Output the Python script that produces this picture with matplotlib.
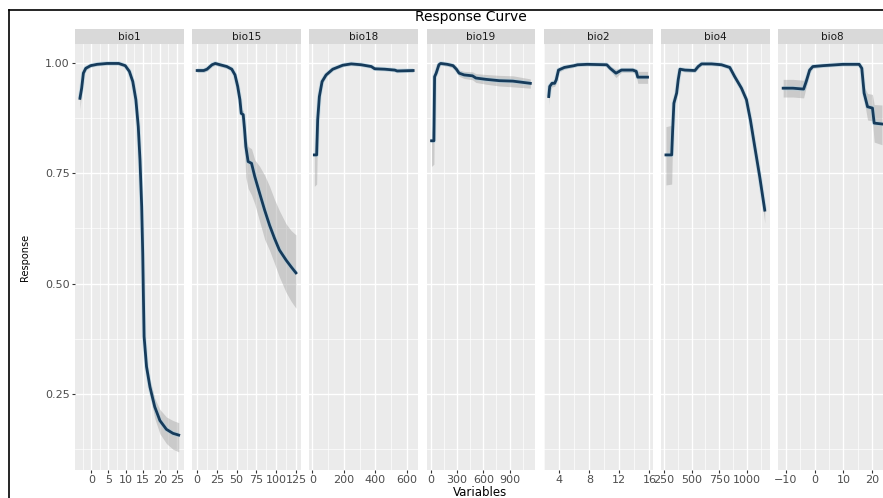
import matplotlib.pyplot as plt
from matplotlib.patches import Rectangle
from matplotlib.lines import Line2D

W, H = 883, 498

# response curves: x values, mean response and the grey band
bio1_x = [-3.3, -2.8, -2.3, -1.6, -0.2, 1.7, 4.6, 8.0, 9.9, 11.1, 12.1, 13.0, 13.7,
          14.2, 14.7, 15.0, 15.2, 15.4, 16.1, 17.1, 18.5, 20.0, 21.9, 23.8, 25.5]
bio1_y = [0.919, 0.942, 0.976, 0.987, 0.993, 0.996, 0.998, 0.998, 0.993, 0.980, 0.957, 0.916, 0.855,
          0.780, 0.674, 0.568, 0.470, 0.380, 0.312, 0.266, 0.221, 0.190, 0.170, 0.161, 0.157]
bio1_lo = [0.895, 0.930, 0.970, 0.983, 0.990, 0.993, 0.995, 0.995, 0.990, 0.976, 0.952, 0.910, 0.849,
           0.773, 0.667, 0.560, 0.462, 0.370, 0.300, 0.250, 0.195, 0.160, 0.138, 0.125, 0.119]
bio1_hi = [0.935, 0.952, 0.982, 0.991, 0.996, 0.999, 1.000, 1.000, 0.996, 0.984, 0.962, 0.922, 0.861,
           0.787, 0.681, 0.576, 0.478, 0.390, 0.324, 0.282, 0.240, 0.215, 0.198, 0.190, 0.185]

bio15_x = [0, 8.3, 12.5, 18.8, 22.9, 29, 37.5, 43.8, 47.9, 51.3, 54.1, 55.8, 58.3,
           60, 61.6, 64.5, 68.8, 72.9, 79.1, 85.4, 91.6, 97.9, 104, 112.5, 118.8, 125]
bio15_y = [0.982, 0.982, 0.985, 0.995, 0.998, 0.995, 0.991, 0.985, 0.972, 0.946, 0.916, 0.885, 0.882,
           0.848, 0.810, 0.776, 0.772, 0.742, 0.704, 0.666, 0.632, 0.602, 0.576, 0.553, 0.538, 0.524]
bio15_lo = [0.978, 0.978, 0.981, 0.991, 0.994, 0.991, 0.987, 0.981, 0.968, 0.941, 0.910, 0.878, 0.865,
            0.800, 0.740, 0.715, 0.700, 0.680, 0.640, 0.600, 0.575, 0.545, 0.515, 0.480, 0.460, 0.444]
bio15_hi = [0.986, 0.986, 0.989, 0.999, 1.002, 0.999, 0.995, 0.989, 0.976, 0.951, 0.922, 0.892, 0.892,
            0.862, 0.830, 0.810, 0.805, 0.780, 0.765, 0.745, 0.720, 0.690, 0.665, 0.635, 0.620, 0.610]

bio18_x = [12.6, 27.3, 33.7, 44.5, 61.8, 87.4, 129.6, 193.5, 247, 311, 375, 396, 460, 524, 539, 641]
bio18_y = [0.791, 0.791, 0.870, 0.923, 0.957, 0.972, 0.985, 0.994, 0.997, 0.995, 0.991, 0.986,
           0.985, 0.983, 0.981, 0.982]
bio18_lo = [0.720, 0.725, 0.850, 0.915, 0.952, 0.968, 0.982, 0.991, 0.994, 0.992, 0.988, 0.983,
            0.982, 0.980, 0.978, 0.978]
bio18_hi = [0.800, 0.860, 0.890, 0.930, 0.962, 0.976, 0.988, 0.997, 1.000, 0.998, 0.994, 0.989,
            0.988, 0.986, 0.984, 0.986]

bio19_x = [8, 35, 43, 61, 92, 112, 188, 254, 292, 323, 381, 476, 515, 631, 784, 938, 1138]
bio19_y = [0.823, 0.823, 0.968, 0.976, 0.995, 0.998, 0.996, 0.993, 0.985, 0.976, 0.972, 0.970,
           0.965, 0.962, 0.959, 0.958, 0.953]
bio19_lo = [0.765, 0.770, 0.955, 0.970, 0.990, 0.994, 0.992, 0.988, 0.979, 0.969, 0.964, 0.961,
            0.955, 0.951, 0.947, 0.945, 0.942]
bio19_hi = [0.840, 0.882, 0.980, 0.982, 0.999, 1.002, 1.000, 0.998, 0.991, 0.983, 0.980, 0.979,
            0.975, 0.973, 0.971, 0.970, 0.963]

bio2_x = [2.59, 2.72, 3.03, 3.37, 3.59, 3.89, 4.68, 5.98, 6.42, 7.73, 10.33, 10.77, 11.55,
          12.29, 13.8, 14.25, 14.45, 15.76]
bio2_y = [0.923, 0.946, 0.953, 0.953, 0.961, 0.983, 0.989, 0.993, 0.995, 0.996, 0.995, 0.987,
          0.976, 0.983, 0.983, 0.980, 0.967, 0.967]
bio2_lo = [0.905, 0.935, 0.945, 0.946, 0.954, 0.978, 0.985, 0.990, 0.992, 0.993, 0.992, 0.982,
           0.966, 0.978, 0.978, 0.972, 0.953, 0.953]
bio2_hi = [0.935, 0.955, 0.960, 0.960, 0.967, 0.988, 0.993, 0.996, 0.998, 0.999, 0.998, 0.992,
           0.985, 0.988, 0.988, 0.986, 0.980, 0.980]

bio4_x = [268, 320, 329, 340, 365, 379, 395, 440, 530, 560, 591, 681, 771, 846, 891, 952,
          997, 1033, 1072, 1117, 1163]
bio4_y = [0.791, 0.791, 0.848, 0.908, 0.931, 0.961, 0.985, 0.983, 0.982, 0.991, 0.997, 0.997,
          0.995, 0.989, 0.968, 0.942, 0.916, 0.870, 0.810, 0.742, 0.666]
bio4_lo = [0.723, 0.725, 0.835, 0.900, 0.924, 0.955, 0.981, 0.979, 0.978, 0.987, 0.994, 0.994,
           0.992, 0.985, 0.963, 0.936, 0.909, 0.862, 0.800, 0.728, 0.637]
bio4_hi = [0.855, 0.858, 0.860, 0.915, 0.938, 0.967, 0.989, 0.987, 0.986, 0.995, 1.000, 1.000,
           0.998, 0.993, 0.973, 0.948, 0.923, 0.878, 0.820, 0.754, 0.678]

bio8_x = [-10.9, -7.5, -3.8, -2.9, -1.7, -0.6, 2.9, 9.8, 15.5, 16.4, 17.2, 18.4, 20.1, 20.7, 23.4]
bio8_y = [0.942, 0.942, 0.940, 0.957, 0.983, 0.991, 0.993, 0.996, 0.996, 0.987, 0.931, 0.900,
          0.897, 0.863, 0.861]
bio8_lo = [0.922, 0.922, 0.920, 0.945, 0.977, 0.987, 0.990, 0.993, 0.993, 0.982, 0.915, 0.870,
           0.868, 0.820, 0.814]
bio8_hi = [0.962, 0.962, 0.960, 0.968, 0.989, 0.995, 0.996, 0.999, 0.999, 0.992, 0.945, 0.930,
           0.928, 0.905, 0.904]

variables = ['bio1', 'bio15', 'bio18', 'bio19', 'bio2', 'bio4', 'bio8']
x_ticks = [[0, 5, 10, 15, 20, 25], [0, 25, 50, 75, 100, 125], [0, 200, 400, 600],
           [0, 300, 600, 900], [4, 8, 12, 16], [250, 500, 750, 1000], [-10, 0, 10, 20]]
y_ticks = [0.25, 0.50, 0.75, 1.00]
y_labels = ['0.25', '0.50', '0.75', '1.00']

curves = [(bio1_x, bio1_y, bio1_lo, bio1_hi), (bio15_x, bio15_y, bio15_lo, bio15_hi),
          (bio18_x, bio18_y, bio18_lo, bio18_hi), (bio19_x, bio19_y, bio19_lo, bio19_hi),
          (bio2_x, bio2_y, bio2_lo, bio2_hi), (bio4_x, bio4_y, bio4_lo, bio4_hi),
          (bio8_x, bio8_y, bio8_lo, bio8_hi)]

fig = plt.figure(figsize=(W / 100, H / 100), dpi=100)
plt.rcParams['font.family'] = 'DejaVu Sans'


def fx(px):
    return px / W


def fy(py):
    return 1 - py / H


panel_top, panel_bot, strip_top = 44, 470, 29.5
panel_w, panel_step = 108.7, 117.2

for i, (name, (x, y, lo, hi), ticks) in enumerate(zip(variables, curves, x_ticks)):
    left = 75 + panel_step * i
    ax = fig.add_axes([fx(left), fy(panel_bot), panel_w / W, (panel_bot - panel_top) / H])
    ax.set_facecolor('#EBEBEB')
    for s in ax.spines.values():
        s.set_visible(False)

    # free x scale with 5% padding on each side
    pad = 0.05 * (max(x) - min(x))
    x0, x1 = min(x) - pad, max(x) + pad
    ax.set_xlim(x0, x1)
    ax.set_ylim(0.078, 1.042)

    step = ticks[1] - ticks[0]
    minor = [t - step / 2 for t in ticks] + [ticks[-1] + step / 2]
    ax.set_xticks(ticks)
    ax.set_xticks([m for m in minor if x0 < m < x1], minor=True)
    ax.set_yticks(y_ticks)
    ax.set_yticklabels(y_labels)
    ax.set_yticks([0.125, 0.375, 0.625, 0.875], minor=True)
    ax.grid(which='major', color='white', lw=1.0)
    ax.grid(which='minor', color='white', lw=0.5)
    ax.set_axisbelow(True)

    ax.fill_between(x, lo, hi, color='#999999', alpha=0.4, lw=0)
    ax.plot(x, y, color='#9ECAE1', lw=3.2, alpha=0.45, solid_capstyle='butt')
    ax.plot(x, y, color='#163B5B', lw=2.0, solid_joinstyle='round')

    ax.tick_params(which='minor', length=0)
    ax.tick_params(which='major', length=2.5, width=0.8, color='#333333',
                   labelcolor='#4D4D4D', labelsize=8, pad=1.2)
    if i > 0:
        ax.tick_params(axis='y', left=False, labelleft=False)

    # facet strip
    sh = (panel_top - strip_top) / (panel_bot - panel_top)
    ax.add_patch(Rectangle((0, 1), 1, sh, transform=ax.transAxes, clip_on=False,
                           facecolor='#D9D9D9', lw=0))
    ax.text(0.5, 1 + sh / 2, name, transform=ax.transAxes, ha='center', va='center',
            fontsize=7.5, color='#1A1A1A')

fig.text(fx(471), fy(17.5), 'Response Curve', ha='center', va='center', fontsize=10)
fig.text(fx(480), fy(492.5), 'Variables', ha='center', va='center', fontsize=8.5)
fig.text(fx(25), fy(257), 'Response', ha='center', va='center', fontsize=7, rotation=90)

# outer frame
fig.add_artist(Line2D([fx(9), fx(9)], [0, fy(10)], color='black', lw=1.2))
fig.add_artist(Line2D([fx(9), 1], [fy(10), fy(10)], color='black', lw=1.2))

fig.savefig('out.png', dpi=100)
